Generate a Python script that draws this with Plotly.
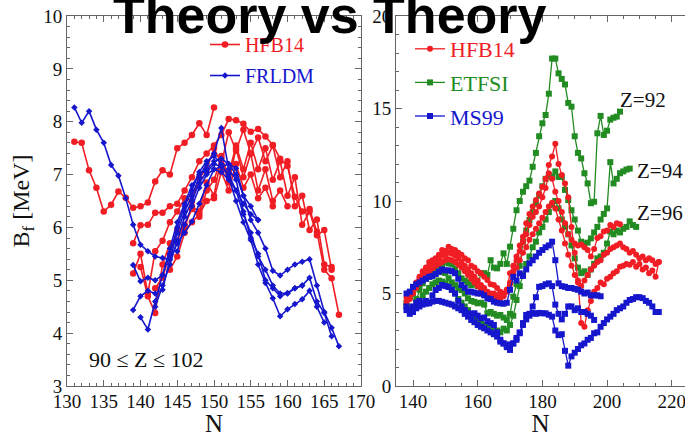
import plotly.graph_objects as go

# ---------------- data: left panel (B_f vs N, 90<=Z<=102) ----------------
HFB14_L_Z90_N0 = 131
HFB14_L_Z90 = [7.62, 7.60, 7.08, 6.75, 6.30, 6.43, 6.68, 6.56, 6.37, 6.40, 6.47, 6.87, 7.08, 7.00,
               7.50, 7.60, 7.75, 7.97, 7.75, 8.27]
HFB14_L_Z92_N0 = 139
HFB14_L_Z92 = [5.70, 6.04, 6.05, 6.28, 6.28, 6.40, 6.45, 6.70, 6.95, 7.25, 7.40, 7.55, 7.75, 8.05,
               8.03, 7.96, 7.81, 7.86, 7.72, 7.56, 7.30, 7.16, 6.58, 6.30, 6.35, 5.92, 5.20, 5.04, 4.35]
HFB14_L_Z94_N0 = 139
HFB14_L_Z94 = [5.13, 5.50, 4.75, 5.55, 5.75, 6.10, 6.30, 6.55, 6.50, 6.95, 7.10, 7.50, 7.20, 7.80,
               7.45, 7.85, 7.40, 7.70, 7.25, 7.55, 6.95, 7.25, 6.40, 6.60, 5.95, 6.15, 5.30, 5.25]
HFB14_L_Z96_N0 = 140
HFB14_L_Z96 = [5.25, 4.70, 4.38, 5.30, 5.70, 5.75, 6.05, 6.35, 6.20, 6.70, 6.90, 7.30, 7.00, 7.55,
               7.10, 7.60, 7.10, 7.50, 6.90, 7.25, 6.60, 6.95, 6.05, 6.30, 5.85, 5.95, 5.20]
HFB14_L_Z98_N0 = 142
HFB14_L_Z98 = [4.85, 5.05, 5.50, 5.95, 6.00, 6.40, 6.30, 6.85, 6.60, 7.35, 6.85, 7.50, 6.95, 7.40,
               6.70, 7.10, 6.50, 6.70, 6.40]
HFB14_L_Z100_N0 = 144
HFB14_L_Z100 = [5.20, 5.45, 5.90, 6.10, 6.25, 6.50, 6.55, 7.05, 6.70, 7.20, 6.75, 7.00, 6.55, 6.75, 6.40]

FRLDM_L_Z90_N0 = 131
FRLDM_L_Z90 = [8.27, 7.98, 8.20, 7.85, 7.60, 7.18, 6.98, 6.55, 6.05, 5.67, 5.55, 5.45, 5.42, 5.39,
               5.70, 5.90, 6.11, 6.45, 6.80, 7.10, 7.15, 7.20, 7.00, 6.60, 6.40, 6.14]
FRLDM_L_Z92_N0 = 139
FRLDM_L_Z92 = [5.29, 4.98, 5.05, 5.00, 5.10, 5.60, 6.10, 6.45, 6.80, 7.00, 7.10, 7.25, 7.30, 7.20,
               7.12, 6.60, 6.14, 5.90, 5.60, 5.18, 5.09, 5.20, 5.30, 5.35, 5.40, 4.90, 4.40, 4.10, 3.75]
FRLDM_L_Z94_N0 = 139
FRLDM_L_Z94 = [4.44, 4.70, 4.80, 4.75, 4.82, 5.40, 5.90, 6.30, 6.60, 6.95, 7.20, 7.40, 7.88, 7.10,
               6.90, 6.30, 5.80, 5.50, 5.00, 4.85, 4.70, 4.75, 4.85, 4.90, 5.05, 4.60, 4.38, 3.94]
FRLDM_L_Z96_N0 = 140
FRLDM_L_Z96 = [4.30, 4.07, 4.60, 5.10, 5.50, 6.00, 6.40, 6.70, 7.05, 7.25, 7.35, 7.20, 6.95, 6.50,
               6.10, 5.76, 5.30, 4.95, 4.66, 4.32, 4.45, 4.55, 4.64, 4.80, 4.50, 4.20]
FRLDM_L_Z98_N0 = 142
FRLDM_L_Z98 = [4.50, 4.90, 5.30, 5.75, 6.20, 6.50, 6.85, 7.05, 7.20, 7.15, 7.00, 6.70, 6.25, 5.90,
               5.45, 5.20, 4.90, 4.75, 4.76, 4.85, 4.90]
FRLDM_L_Z100_N0 = 145
FRLDM_L_Z100 = [5.55, 6.05, 6.40, 6.75, 7.00, 7.10, 7.05, 6.90, 6.70, 6.45, 6.25, 6.14]

# ---------------- data: right panel (Z = 92, 94, 96) ----------------
HFB14_R_Z92_N0 = 138
HFB14_R_Z92 = [4.80, 5.00, 5.30, 5.60, 5.90, 6.20, 6.40, 6.70, 6.80, 6.90,
               7.10, 7.35, 7.30, 7.53, 7.40, 7.35, 7.20, 7.10, 6.90, 6.80,
               6.50, 6.40, 6.20, 6.10, 5.90, 5.73, 5.50, 5.46, 5.30, 5.10,
               5.00, 5.20, 6.10, 6.50, 7.00, 7.60, 8.07, 8.80, 9.30, 9.70,
               10.05, 10.40, 10.77, 11.20, 11.95, 12.40,
               13.10, 12.00, 11.40, 10.95, 10.20, 8.60, 7.20, 5.70, 3.40, 3.20,
               4.10, 4.60, 5.10, 5.30, 5.60, 5.50, 5.80, 5.90, 6.10, 6.20,
               6.45, 6.50, 6.60, 6.55, 6.70, 6.45, 6.60, 6.30, 6.40, 6.10,
               6.25, 5.90, 6.70]
HFB14_R_Z94_N0 = 138
HFB14_R_Z94 = [4.60, 4.90, 5.20, 5.50, 5.80, 6.05, 6.30, 6.50, 6.65, 6.80,
               6.90, 7.05, 7.10, 7.20, 7.15, 7.05, 6.90, 6.70, 6.50, 6.30,
               6.10, 5.90, 5.70, 5.46, 5.30, 5.10, 5.00, 5.00, 4.90, 4.80,
               4.90, 5.20, 5.60, 6.20, 6.80, 7.30, 7.80, 8.20, 8.70, 9.15,
               9.40, 9.70, 10.20, 10.70, 11.50, 11.20, 10.50, 10.00, 9.40, 8.80,
               8.20, 7.90, 7.70, 7.60, 7.65, 7.50, 7.35, 7.00, 7.40, 8.00,
               8.10, 8.35, 8.40, 8.70, 8.60, 8.80, 8.75]
HFB14_R_Z96_N0 = 138
HFB14_R_Z96 = [4.40, 4.70, 5.00, 5.30, 5.55, 5.80, 6.00, 6.20, 6.35, 6.50,
               6.60, 6.70, 6.80, 6.85, 6.80, 6.70, 6.55, 6.40, 6.20, 6.00,
               5.80, 5.60, 5.40, 5.20, 5.05, 4.90, 4.80, 4.75, 4.70, 4.75,
               4.85, 5.10, 5.50, 6.00, 6.40, 6.80, 7.20, 7.50, 7.90, 8.20,
               8.50, 8.80, 9.10, 9.40, 9.70, 9.90, 9.60, 9.00, 8.40, 7.70,
               7.10, 6.50, 6.00, 5.60, 5.40, 5.70, 6.00, 6.30, 6.50, 6.70,
               6.80, 7.10, 7.20, 7.40, 7.50, 7.60, 7.70, 7.50, 7.40, 7.20,
               7.30, 7.10, 6.90, 7.00, 6.80, 6.90, 6.80, 6.60, 6.70]

ETFSI_R_Z92_N0 = 138
ETFSI_R_Z92 = [4.30, 4.20, 4.25, 4.70, 5.20, 5.55, 5.80, 6.00, 6.20, 6.36,
               6.50, 6.54, 6.70, 6.63, 6.60, 6.35, 6.10, 5.82, 5.70, 5.60,
               5.46, 5.50, 5.40, 6.10, 6.10, 6.00, 6.80, 6.40, 6.36, 6.60,
               7.17, 6.60, 7.53, 8.50, 9.50, 10.00, 10.50, 10.80, 11.10, 11.85,
               12.60, 13.50, 14.20, 14.65, 15.80, 17.70, 17.70, 16.90, 16.60, 16.30,
               15.30, 15.10, 13.50, 12.60, 12.30, 11.50, 10.95, 9.88, 9.96, 13.66,
               14.60, 13.57, 13.80, 14.40, 14.50, 14.56, 14.83]
ETFSI_R_Z94_N0 = 138
ETFSI_R_Z94 = [4.50, 4.80, 5.00, 5.30, 5.50, 5.70, 5.80, 5.90, 6.00, 6.10,
               6.20, 6.15, 6.10, 5.82, 5.60, 5.45, 5.30, 5.19, 5.00, 4.74,
               4.60, 4.55, 4.47, 4.50, 4.40, 3.93, 4.00, 3.90, 3.80, 3.84,
               3.70, 3.57, 3.90, 4.83, 5.50, 6.50, 7.80, 8.40, 8.97, 9.40,
               9.88, 10.30, 10.80, 11.20, 11.40, 11.30, 11.60, 11.30, 11.30, 10.60,
               10.05, 9.50, 9.00, 8.40, 7.80, 7.70, 7.75, 7.98, 8.30, 8.60,
               9.00, 9.30, 9.60, 12.10, 10.95, 11.20, 11.50, 11.60, 11.70, 11.75]
ETFSI_R_Z96_N0 = 140
ETFSI_R_Z96 = [4.00, 4.30, 4.60, 4.90, 5.10, 5.30, 5.50, 5.60, 5.70, 5.65,
               5.55, 5.40, 5.20, 5.00, 4.70, 4.50, 4.30, 4.10, 3.90, 3.70,
               3.60, 3.50, 3.30, 3.20, 3.10, 3.05, 3.00, 2.90, 3.10, 3.00,
               3.30, 3.80, 4.65, 5.40, 6.00, 6.60, 7.00, 7.50, 7.80, 8.30,
               8.60, 9.00, 9.40, 9.80, 10.00, 9.60, 9.00, 8.60, 8.20, 7.60,
               6.90, 6.40, 6.10, 6.20, 6.00, 6.30, 6.60, 6.90, 7.00, 7.20,
               7.70, 8.35, 8.20, 8.40, 8.30, 8.50, 8.60, 8.90, 8.70, 8.60]

MS99_R_Z92_N0 = 138
MS99_R_Z92 = [5.00, 5.10, 5.36, 5.50, 5.60, 5.70, 5.80, 5.90, 5.95, 6.05,
              6.18, 6.30, 6.25, 6.25, 6.20, 6.10, 5.80, 5.46, 5.30, 5.10,
              5.10, 5.05, 5.00, 5.00, 4.90, 4.74, 4.70, 4.56, 4.50, 4.47,
              4.45, 4.50, 5.20, 5.90, 5.70, 6.09, 5.95, 6.30, 6.63, 6.80,
              7.00, 7.20, 7.35, 7.50, 7.60, 7.80, 6.80, 5.55, 5.40, 5.36,
              5.30, 5.30, 5.25, 5.20, 5.10, 5.00, 5.05, 4.90, 4.90, 4.90, 4.85]
MS99_R_Z94_N0 = 138
MS99_R_Z94 = [4.30, 4.10, 4.30, 4.50, 4.60, 4.50, 4.60, 4.47, 4.90, 5.19,
              5.30, 5.46, 5.40, 5.35, 5.20, 5.00, 4.60, 4.30, 4.10, 3.93,
              3.90, 3.93, 3.80, 3.66, 3.70, 3.50, 3.40, 3.30, 2.90, 2.50,
              2.30, 2.10, 1.95, 2.30, 2.60, 2.85, 3.40, 3.84, 3.90, 4.30,
              4.80, 5.36, 5.40, 5.50, 5.55, 5.40, 4.40, 3.90, 3.60, 3.90,
              4.30, 4.30, 4.10, 4.20, 4.00, 4.00, 3.90, 3.80, 3.57]
MS99_R_Z96_N0 = 138
MS99_R_Z96 = [4.10, 3.90, 4.00, 4.20, 4.30, 4.40, 4.45, 4.50, 4.56, 4.60,
              4.60, 4.55, 4.50, 4.45, 4.40, 4.30, 4.20, 4.10, 3.90, 3.75,
              3.57, 3.45, 3.30, 3.20, 3.12, 3.00, 2.90, 2.80, 2.67, 2.40,
              2.30, 2.20, 2.25, 2.30, 2.50, 2.90, 3.30, 3.60, 3.80, 3.95,
              3.90, 3.95, 3.93, 3.93, 3.85, 3.75, 3.00, 2.75, 2.80, 1.90,
              1.10, 1.60, 1.80, 2.00, 2.20, 2.30, 2.50, 2.60, 2.85, 2.90,
              3.20, 3.40, 3.60, 3.75, 3.90, 4.10, 4.20, 4.30, 4.50, 4.65,
              4.70, 4.80, 4.80, 4.75, 4.60, 4.50, 4.30, 4.00, 4.00]

LEFT_X_TICKS = [130, 135, 140, 145, 150, 155, 160, 165, 170]
LEFT_Y_TICKS = [3, 4, 5, 6, 7, 8, 9, 10]
RIGHT_X_TICKS = [140, 160, 180, 200, 220]
RIGHT_Y_TICKS = [0, 5, 10, 15, 20]

# ---------------- styling ----------------
RED = "rgb(240,30,36)"
BLUE = "rgb(22,22,205)"
GREEN = "rgb(34,140,34)"
AXC = "#666666"
SERIF = "Liberation Serif"
W, H = 685, 437

fig = go.Figure()


def add_group(chains, xa, ya, color, symbol, size, width, label, legend, group, rank):
    first = True
    for n0, vals in chains:
        ns = list(range(n0, n0 + len(vals)))
        fig.add_trace(go.Scatter(
            x=ns, y=vals, xaxis=xa, yaxis=ya, mode="lines+markers",
            line=dict(color=color, width=width),
            marker=dict(color=color, symbol=symbol, size=size, line=dict(width=0)),
            name='<span style="color:%s">%s</span>' % (color, label),
            legend=legend, legendgroup=group, legendrank=rank, showlegend=first, hoverinfo="skip"))
        first = False


add_group([(HFB14_L_Z90_N0, HFB14_L_Z90), (HFB14_L_Z92_N0, HFB14_L_Z92), (HFB14_L_Z94_N0, HFB14_L_Z94),
           (HFB14_L_Z96_N0, HFB14_L_Z96), (HFB14_L_Z98_N0, HFB14_L_Z98), (HFB14_L_Z100_N0, HFB14_L_Z100)],
          "x", "y", RED, "circle", 6.5, 1.6, "HFB14", "legend", "L_HFB14", 1)
add_group([(FRLDM_L_Z90_N0, FRLDM_L_Z90), (FRLDM_L_Z92_N0, FRLDM_L_Z92), (FRLDM_L_Z94_N0, FRLDM_L_Z94),
           (FRLDM_L_Z96_N0, FRLDM_L_Z96), (FRLDM_L_Z98_N0, FRLDM_L_Z98), (FRLDM_L_Z100_N0, FRLDM_L_Z100)],
          "x", "y", BLUE, "diamond", 5, 1.6, "FRLDM", "legend", "L_FRLDM", 2)
add_group([(ETFSI_R_Z92_N0, ETFSI_R_Z92), (ETFSI_R_Z94_N0, ETFSI_R_Z94), (ETFSI_R_Z96_N0, ETFSI_R_Z96)],
          "x2", "y2", GREEN, "square", 6, 1.3, "ETFSI", "legend2", "R_ETFSI", 2)
add_group([(HFB14_R_Z92_N0, HFB14_R_Z92), (HFB14_R_Z94_N0, HFB14_R_Z94), (HFB14_R_Z96_N0, HFB14_R_Z96)],
          "x2", "y2", RED, "circle", 6, 1.3, "HFB14", "legend2", "R_HFB14", 1)
add_group([(MS99_R_Z92_N0, MS99_R_Z92), (MS99_R_Z94_N0, MS99_R_Z94), (MS99_R_Z96_N0, MS99_R_Z96)],
          "x2", "y2", BLUE, "square", 6, 1.3, "MS99", "legend2", "R_MS99", 3)

x0, x1 = 67 / W, 361 / W
x2s = 396 / W
ybot, ytop = 1 - 386 / H, 1 - 16 / H

tickfont = dict(family=SERIF, size=19, color="#111111")
common = dict(showline=True, linecolor=AXC, linewidth=1, ticks="inside", tickcolor=AXC, ticklen=6,
              showgrid=False, zeroline=False, tickfont=tickfont, automargin=False,
              ticklabeloverflow="allow")
xtitle = dict(text="N", font=dict(family=SERIF, size=25, color="#111111"), standoff=12)

fig.update_layout(
    width=W, height=H, margin=dict(l=0, r=0, t=0, b=0),
    paper_bgcolor="white", plot_bgcolor="white",
    xaxis=dict(domain=[x0, x1], range=[130, 170], tickvals=LEFT_X_TICKS, anchor="y", mirror="allticks",
               minor=dict(dtick=1, ticks="inside", ticklen=3, tickcolor=AXC), title=xtitle,
               ticklabelstandoff=-2, **common),
    yaxis=dict(domain=[ybot, ytop], range=[3, 10], tickvals=LEFT_Y_TICKS, anchor="x", mirror="allticks",
               minor=dict(dtick=0.2, ticks="inside", ticklen=3, tickcolor=AXC),
               title=dict(text="B<sub>f</sub> [MeV]", font=dict(family=SERIF, size=24, color="#111111"), standoff=6),
               **common),
    xaxis2=dict(domain=[x2s, 1.0], range=[134.74, 224.1], tickvals=RIGHT_X_TICKS, anchor="y2", mirror="allticks",
                minor=dict(dtick=5, ticks="inside", ticklen=3, tickcolor=AXC), title=xtitle,
                ticklabelstandoff=-2, **common),
    yaxis2=dict(domain=[ybot, ytop], range=[0, 20], tickvals=RIGHT_Y_TICKS, anchor="x2", mirror=False,
                minor=dict(dtick=1, ticks="inside", ticklen=3, tickcolor=AXC), **common),
    legend=dict(x=205 / W, y=1 - 25 / H, xanchor="left", yanchor="top", bgcolor="rgba(0,0,0,0)",
                font=dict(family=SERIF, size=20), tracegroupgap=2, itemclick=False, itemdoubleclick=False),
    legend2=dict(x=410 / W, y=1 - 28 / H, xanchor="left", yanchor="top", bgcolor="rgba(0,0,0,0)",
                 font=dict(family=SERIF, size=22), tracegroupgap=2, itemclick=False, itemdoubleclick=False),
    showlegend=True,
)

fig.add_annotation(text="<b>Theory vs Theory</b>", xref="paper", yref="paper", x=330 / W, y=1 - 15 / H,
                   xanchor="center", yanchor="middle", showarrow=False,
                   font=dict(family="Liberation Sans", size=52, color="black"))
fig.add_annotation(text="90 \u2264 Z \u2264 102", xref="x", yref="y", x=132.7, y=3.51, xanchor="left",
                   yanchor="middle", showarrow=False, font=dict(family=SERIF, size=22, color="#111111"))
for lab, nx, by in [("Z=92", 203.4, 15.46), ("Z=94", 208.6, 11.6), ("Z=96", 208.6, 9.35)]:
    fig.add_annotation(text=lab, xref="x2", yref="y2", x=nx, y=by, xanchor="left", yanchor="middle",
                       showarrow=False, font=dict(family=SERIF, size=21, color="#111111"))

fig.write_html("out.html")
